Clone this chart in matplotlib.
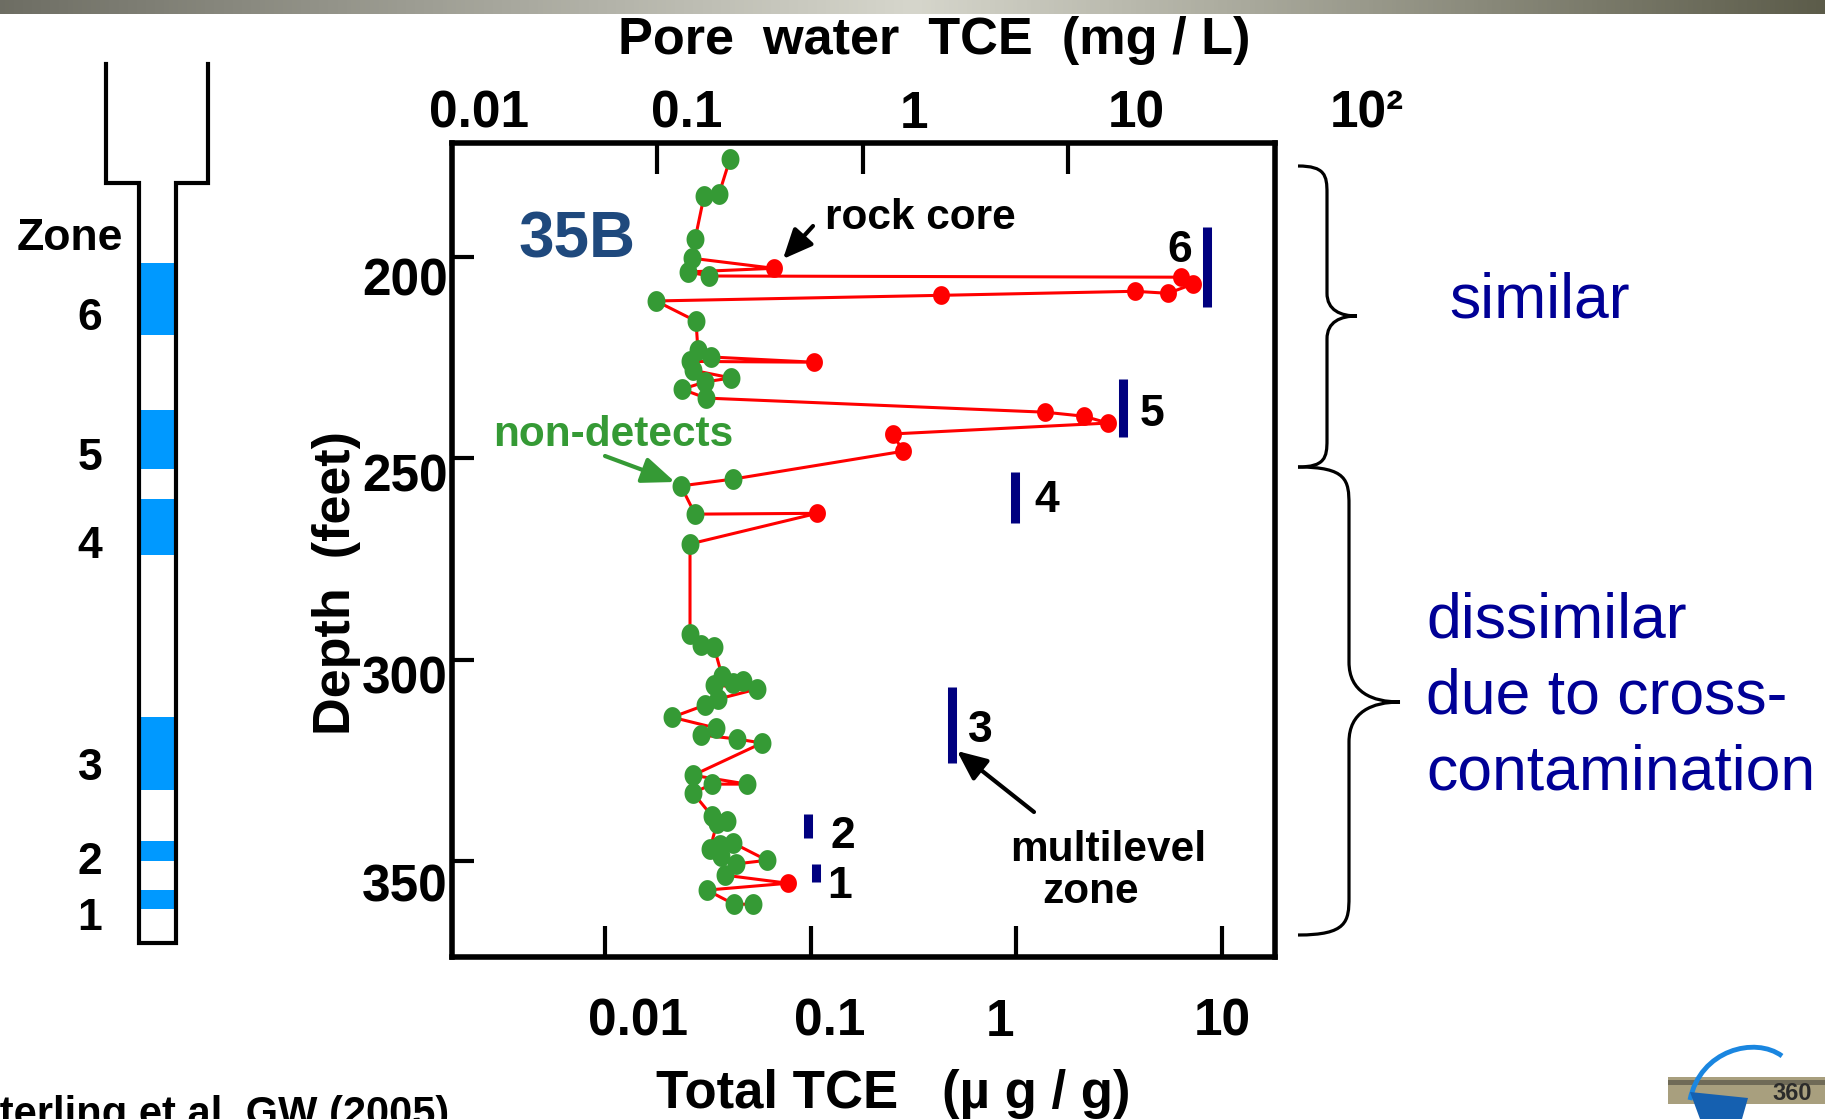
import numpy as np
import matplotlib
matplotlib.use("Agg")
import matplotlib.pyplot as plt
from matplotlib.path import Path
from matplotlib.patches import PathPatch, Rectangle, Polygon
from matplotlib.ticker import FixedLocator, NullLocator, NullFormatter

W, H = 1825, 1119
FONT = "Liberation Sans"

# ---- rock-core profile, borehole 35B (listed in sampling order) ----
depth_ft = [175.8, 184.5, 185.0, 195.7, 200.4, 202.9, 203.8, 204.8, 205.1, 206.8,
            209.1, 208.6, 209.6, 211.0, 216.0, 223.2, 224.9, 226.2, 226.0, 228.2,
            230.1, 231.1, 232.9, 235.1, 238.6, 239.6, 241.3, 244.0, 248.3, 255.2,
            256.9, 263.9, 263.7, 271.3, 293.7, 296.4, 296.9, 304.1, 305.3, 305.8,
            306.3, 307.3, 309.8, 311.3, 314.3, 317.0, 318.7, 319.7, 320.7, 328.7,
            330.9, 330.9, 333.1, 338.8, 340.1, 340.6, 347.0, 346.0, 348.8, 345.5,
            349.8, 350.7, 353.5, 355.5, 357.2, 360.7, 360.7]
total_tce_ug_g = [0.0405, 0.0358, 0.0303, 0.0274, 0.0265, 0.0663, 0.0253, 0.0321, 6.31, 7.22,
                  5.46, 3.77, 0.430, 0.0177, 0.0277, 0.0283, 0.0327, 0.1038, 0.0259, 0.0268,
                  0.0410, 0.0306, 0.0237, 0.0310, 1.377, 2.13, 2.79, 0.251, 0.281, 0.0419,
                  0.0234, 0.0274, 0.1074, 0.0259, 0.0259, 0.0293, 0.0339, 0.0371, 0.0469, 0.0419,
                  0.0339, 0.0548, 0.0354, 0.0306, 0.0212, 0.0347, 0.0293, 0.0438, 0.0580, 0.0268,
                  0.0490, 0.0331, 0.0268, 0.0331, 0.0392, 0.0350, 0.0324, 0.0362, 0.0366, 0.0419,
                  0.0613, 0.0434, 0.0383, 0.0776, 0.0313, 0.0424, 0.0524]
detect_idx = [5, 8, 9, 10, 11, 12, 17, 24, 25, 26, 27, 28, 32, 63]

# ---- multilevel system zones: pore water TCE (mg/L) ----
zone_ids = ["6", "5", "4", "3", "2", "1"]
zone_top_ft = [192.7, 230.4, 253.5, 306.8, 338.3, 350.7]
zone_bot_ft = [212.5, 244.8, 266.1, 325.7, 344.3, 355.2]
zone_tce_mg_l = [47.2, 18.4, 5.5, 2.72, 0.54, 0.59]

# axis ticks and labels
total_ticks = [0.01, 0.1, 1, 10]
total_labels = ["0.01", "0.1", "1", "10"]
pore_ticks = [0.1, 1, 10]
pore_labels = ["0.01", "0.1", "1", "10", "10²"]
depth_ticks = [200, 250, 300, 350]
depth_labels = ["200", "250", "300", "350"]

PORE_PER_TOTAL = 5.586          # mg/L of pore water per ug/g of rock
XLIM = (0.001804, 18.08)
YLIM = (373.8, 171.8)

RED = "#ff0000"
GREEN = "#359a35"
NAVY = "#00007f"
TEXT_BLUE = "#000096"

fig = plt.figure(figsize=(W / 100, H / 100), dpi=100)
fig.patch.set_facecolor("white")

L, R_, T, B = 452, 1275, 143, 957
ax = fig.add_axes([L / W, (H - B) / H, (R_ - L) / W, (B - T) / H])
ax.set_xscale("log")
ax.set_xlim(*XLIM)
ax.set_ylim(*YLIM)
ax.xaxis.set_major_locator(FixedLocator(total_ticks))
ax.xaxis.set_minor_locator(NullLocator())
ax.xaxis.set_major_formatter(NullFormatter())
ax.yaxis.set_major_locator(FixedLocator(depth_ticks))
ax.tick_params(axis="x", direction="in", length=22, width=3, bottom=True, top=False,
               labelbottom=False, labeltop=False)
ax.tick_params(axis="y", direction="in", length=16, width=3, left=True, right=False,
               labelleft=False)
for sp in ax.spines.values():
    sp.set_linewidth(4)

# elliptical dot markers
t = np.linspace(0, 2 * np.pi, 64)
dot_g = Path(np.column_stack([0.86 * np.cos(t), np.sin(t)]), closed=True)
dot_r = Path(np.column_stack([0.90 * np.cos(t), np.sin(t)]), closed=True)

x = np.array(total_tce_ug_g)
y = np.array(depth_ft)
det = np.zeros(len(x), bool)
det[detect_idx] = True

ax.plot(x, y, color=RED, lw=2.2, zorder=2)
ax.plot(x[~det], y[~det], ls="none", marker=dot_g, ms=15, color=GREEN, mec="none", zorder=3)
ax.plot(x[det], y[det], ls="none", marker=dot_r, ms=13.5, color=RED, mec="none", zorder=4)

# pore water axis (top)
ax2 = ax.twiny()
ax2.set_xscale("log")
ax2.set_xlim(XLIM[0] * PORE_PER_TOTAL, XLIM[1] * PORE_PER_TOTAL)
ax2.xaxis.set_major_locator(FixedLocator(pore_ticks))
ax2.xaxis.set_minor_locator(NullLocator())
ax2.xaxis.set_major_formatter(NullFormatter())
ax2.tick_params(axis="x", direction="in", length=22, width=3, top=True, bottom=False,
                labeltop=False, labelbottom=False)
for sp in ax2.spines.values():
    sp.set_visible(False)
ax2.vlines(zone_tce_mg_l, zone_top_ft, zone_bot_ft, color=NAVY, lw=6.5,
           capstyle="butt", zorder=3)

# ---- overlay in pixel coordinates for labels and schematic ----
ov = fig.add_axes([0, 0, 1, 1], zorder=5)
ov.axis("off")


def txt(xp, yp, s, size, weight="bold", **kw):
    ov.text(xp, yp, s, fontsize=size, fontweight=weight, family=FONT, **kw)


# header gradient band
xs = np.linspace(0, 1, 400)
lvl_r = np.interp(xs, [0, 0.5, 1], [0.43, 0.84, 0.36])
lvl_b = np.interp(xs, [0, 0.5, 1], [0.39, 0.80, 0.29])
band = np.stack([lvl_r, lvl_r, lvl_b], axis=-1)[None, :, :]
ov.imshow(band, extent=(0, W, 14, 0), aspect="auto", zorder=1)

# axis titles
txt(934, 54, "Pore  water  TCE  (mg / L)", 37.6, ha="center", va="baseline")
txt(893, 1108, "Total TCE   (\u00b5 g / g)", 38, ha="center", va="baseline")
txt(337, 583, "Depth  (feet)", 37.5, ha="center", va="center", rotation=90)

# tick labels
for s, xp in zip(pore_labels, [479, 687, 914, 1136, 1367]):
    txt(xp, 128, s, 37, ha="center", va="baseline")
for s, xp in zip(total_labels, [638, 830, 1000, 1222]):
    txt(xp, 1036, s, 37, ha="center", va="baseline")
for s, yp in zip(depth_labels, [296, 491, 693, 901]):
    txt(448, yp, s, 37, ha="right", va="baseline")

# annotations inside the plot
txt(518, 257, "35B", 46, ha="left", va="baseline", color="#1f497d")
txt(825, 229, "rock core", 30.5, ha="left", va="baseline")
txt(493, 446, "non-detects", 30.5, ha="left", va="baseline", color=GREEN)
txt(1108, 861, "multilevel", 30.5, ha="center", va="baseline")
txt(1091, 903, "zone", 30.5, ha="center", va="baseline")

arrow_kw = dict(shrinkA=0, shrinkB=0, mutation_scale=20, lw=3)
ov.annotate("", xy=(783, 259), xytext=(813, 226),
            arrowprops=dict(arrowstyle="-|>,head_length=0.9,head_width=0.4",
                            color="black", **arrow_kw))
ov.annotate("", xy=(675, 482), xytext=(605, 456),
            arrowprops=dict(arrowstyle="-|>,head_length=1.0,head_width=0.4",
                            color=GREEN, **arrow_kw))
ov.annotate("", xy=(957, 751), xytext=(1034, 812),
            arrowprops=dict(arrowstyle="-|>,head_length=0.9,head_width=0.4",
                            color="black", **arrow_kw))

# zone numbers beside the multilevel bars
for s, (xp, yp) in zip(zone_ids, [(1180, 250), (1152, 415), (1047, 500),
                                  (980, 731), (843, 836), (840, 886)]):
    txt(xp, yp, s, 32, ha="center", va="center")

# borehole schematic with monitored intervals
blue_spans = [(263, 335), (410, 469), (499, 555), (717, 790), (841, 861), (890, 909)]
for y0, y1 in blue_spans:
    ov.add_patch(Rectangle((139, y0), 37, y1 - y0, facecolor="#0099ff",
                           edgecolor="none", zorder=2))
well = [(106, 64), (106, 183), (139, 183), (139, 943), (176, 943),
        (176, 183), (208, 183), (208, 64)]
ov.plot(*zip(*well), color="black", lw=3, solid_joinstyle="miter", zorder=3)
txt(70, 239, "Zone", 32, ha="center", va="center")
for s, yp in zip(zone_ids, [318, 458, 547, 769, 863, 918]):
    txt(90, yp, s, 32, ha="center", va="center")


# curly braces on the right
def brace(x_end, y_top, y_bot, x_sp, x_tip, y_tip, r_end, r_tip):
    dx = x_tip - x_sp
    verts = [(x_end, y_top),
             (x_sp - 2, y_top), (x_sp, y_top + r_end * 0.35), (x_sp, y_top + r_end),
             (x_sp, y_tip - r_tip),
             (x_sp, y_tip - r_tip * 0.25), (x_sp + dx * 0.45, y_tip), (x_tip, y_tip),
             (x_sp + dx * 0.45, y_tip), (x_sp, y_tip + r_tip * 0.25), (x_sp, y_tip + r_tip),
             (x_sp, y_bot - r_end),
             (x_sp, y_bot - r_end * 0.35), (x_sp - 2, y_bot), (x_end, y_bot)]
    C = Path.CURVE4
    codes = [Path.MOVETO, C, C, C, Path.LINETO, C, C, C, C, C, C, Path.LINETO, C, C, C]
    ov.add_patch(PathPatch(Path(verts, codes), fill=False, lw=2.3, edgecolor="black",
                           zorder=3))


brace(1298, 166, 467, 1327, 1357, 316, 27, 23)
brace(1298, 467, 935, 1349, 1400, 702, 38, 40)

txt(1449, 318, "similar", 45, weight="normal", ha="left", va="baseline", color=TEXT_BLUE)
for s, yp in zip(["dissimilar", "due to cross-", "contamination"], [637, 713, 789]):
    txt(1426, yp, s, 45, weight="normal", ha="left", va="baseline", color=TEXT_BLUE)

# citation
txt(-28, 1126, "Sterling et al. GW (2005)", 30, ha="left", va="baseline")

# small corner badge
ov.add_patch(Rectangle((1668, 1077), 157, 27, facecolor="#a89f7e", edgecolor="none", zorder=2))
ov.add_patch(Rectangle((1668, 1080), 157, 5, facecolor="#6f6a57", edgecolor="none", zorder=2))
arc = Path([(1690, 1100), (1700, 1050), (1755, 1036), (1782, 1056)],
           [Path.MOVETO, Path.CURVE4, Path.CURVE4, Path.CURVE4])
ov.add_patch(PathPatch(arc, fill=False, lw=3.5, edgecolor="#1a86e0", zorder=3))
ov.add_patch(Polygon([(1690, 1092), (1748, 1098), (1742, 1119), (1700, 1119)],
                     closed=True, facecolor="#1560b0", edgecolor="none", zorder=3))
txt(1792, 1093, "360", 17, ha="center", va="center", color="#2b2b2b", zorder=4)

ov.set_xlim(0, W)
ov.set_ylim(H, 0)

fig.savefig("out.png", dpi=100)
